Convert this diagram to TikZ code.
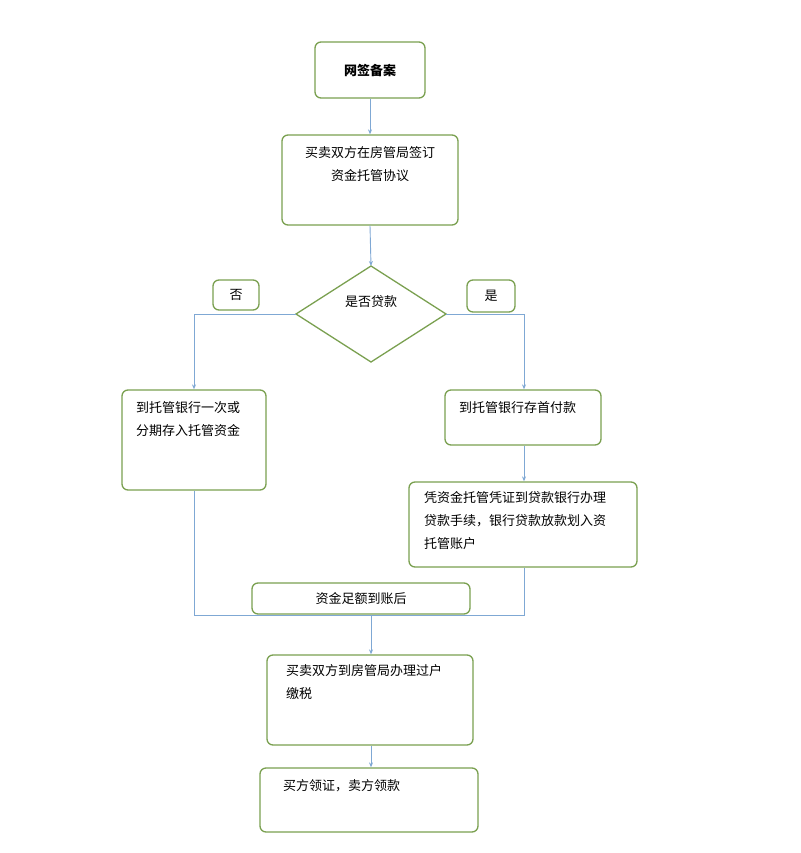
\documentclass[tikz,border=0pt]{standalone}
\usepackage{fontspec}
\setmainfont{Noto Sans CJK SC}
\usetikzlibrary{arrows.meta}
\definecolor{bd}{HTML}{7AA050}
\definecolor{ln}{HTML}{7FA8D4}
\tikzset{
 bx/.style={draw=bd,line width=1.3pt,rounded corners=6pt,fill=white},
 tx/.style={font=\fontsize{13}{23}\selectfont,align=left,anchor=north west,inner sep=0pt},
 cn/.style={draw=ln,line width=0.9pt},
 ar/.style={cn,-{Stealth[length=5pt,width=4pt]}}
}
\begin{document}
\begin{tikzpicture}[x=1pt,y=-1pt]
\useasboundingbox (0,0) rectangle (800,853);
% boxes
\node[bx,minimum width=110,minimum height=56] (a) at (370,70) {};
\node[font=\fontsize{13}{14}\selectfont\bfseries] at (a) {网签备案};
\node[bx,minimum width=176,minimum height=90] (b) at (370,180) {};
\node[tx,align=center,anchor=north] at (370,146) {买卖双方在房管局签订\\资金托管协议};
\draw[draw=bd,line width=1.3pt] (371,266) coordinate (dt) -- (446,314) coordinate (dr) -- (371,362) -- (296,314) coordinate (dl) -- cycle;
\node[font=\fontsize{13}{14}\selectfont] (dq) at (371,302) {是否贷款};
\node[bx,minimum width=46,minimum height=30] (no) at (236,295) {};
\node[font=\fontsize{13}{14}\selectfont] at (no) {否};
\node[bx,minimum width=48,minimum height=32] (yes) at (491,296) {};
\node[font=\fontsize{13}{14}\selectfont] at (yes) {是};
\node[bx,minimum width=144,minimum height=100] (l) at (194,440) {};
\node[tx] at (136,401) {到托管银行一次或\\分期存入托管资金};
\node[bx,minimum width=156,minimum height=55] (r1) at (523,417.5) {};
\node[tx] at (459,401) {到托管银行存首付款};
\node[bx,minimum width=228,minimum height=85] (r2) at (523,524.5) {};
\node[tx] at (424,491) {凭资金托管凭证到贷款银行办理\\贷款手续，银行贷款放款划入资\\托管账户};
\node[bx,minimum width=218,minimum height=31] (m) at (361,598.5) {};
\node[font=\fontsize{13}{14}\selectfont] at (m) {资金足额到账后};
\node[bx,minimum width=206,minimum height=90] (c) at (370,700) {};
\node[tx] at (286,664) {买卖双方到房管局办理过户\\缴税};
\node[bx,minimum width=218,minimum height=64] (d) at (369,800) {};
\node[tx] at (283,779) {买方领证，卖方领款};
% connectors
\draw[ar] (a.south) -- (b.north);
\draw[ar] (b.south) -- (dt);
\coordinate (lt) at (194,314);
\coordinate (rt) at (524,314);
\draw[ar] (dl) -- (lt) -- (l.north);
\draw[ar] (dr) -- (rt) -- (r1.north -| rt);
\draw[ar] (r1.south -| rt) -- (r2.north -| rt);
\coordinate (lb) at (194,615);
\coordinate (rb) at (524,615);
\coordinate (mb) at (371,615);
\draw[cn] (l.south) -- (lb) -- (rb) -- (r2.south -| rb);
\draw[ar] (mb) -- (c.north -| mb);
\draw[ar] (c.south -| mb) -- (d.north -| mb);
\end{tikzpicture}
\end{document}
